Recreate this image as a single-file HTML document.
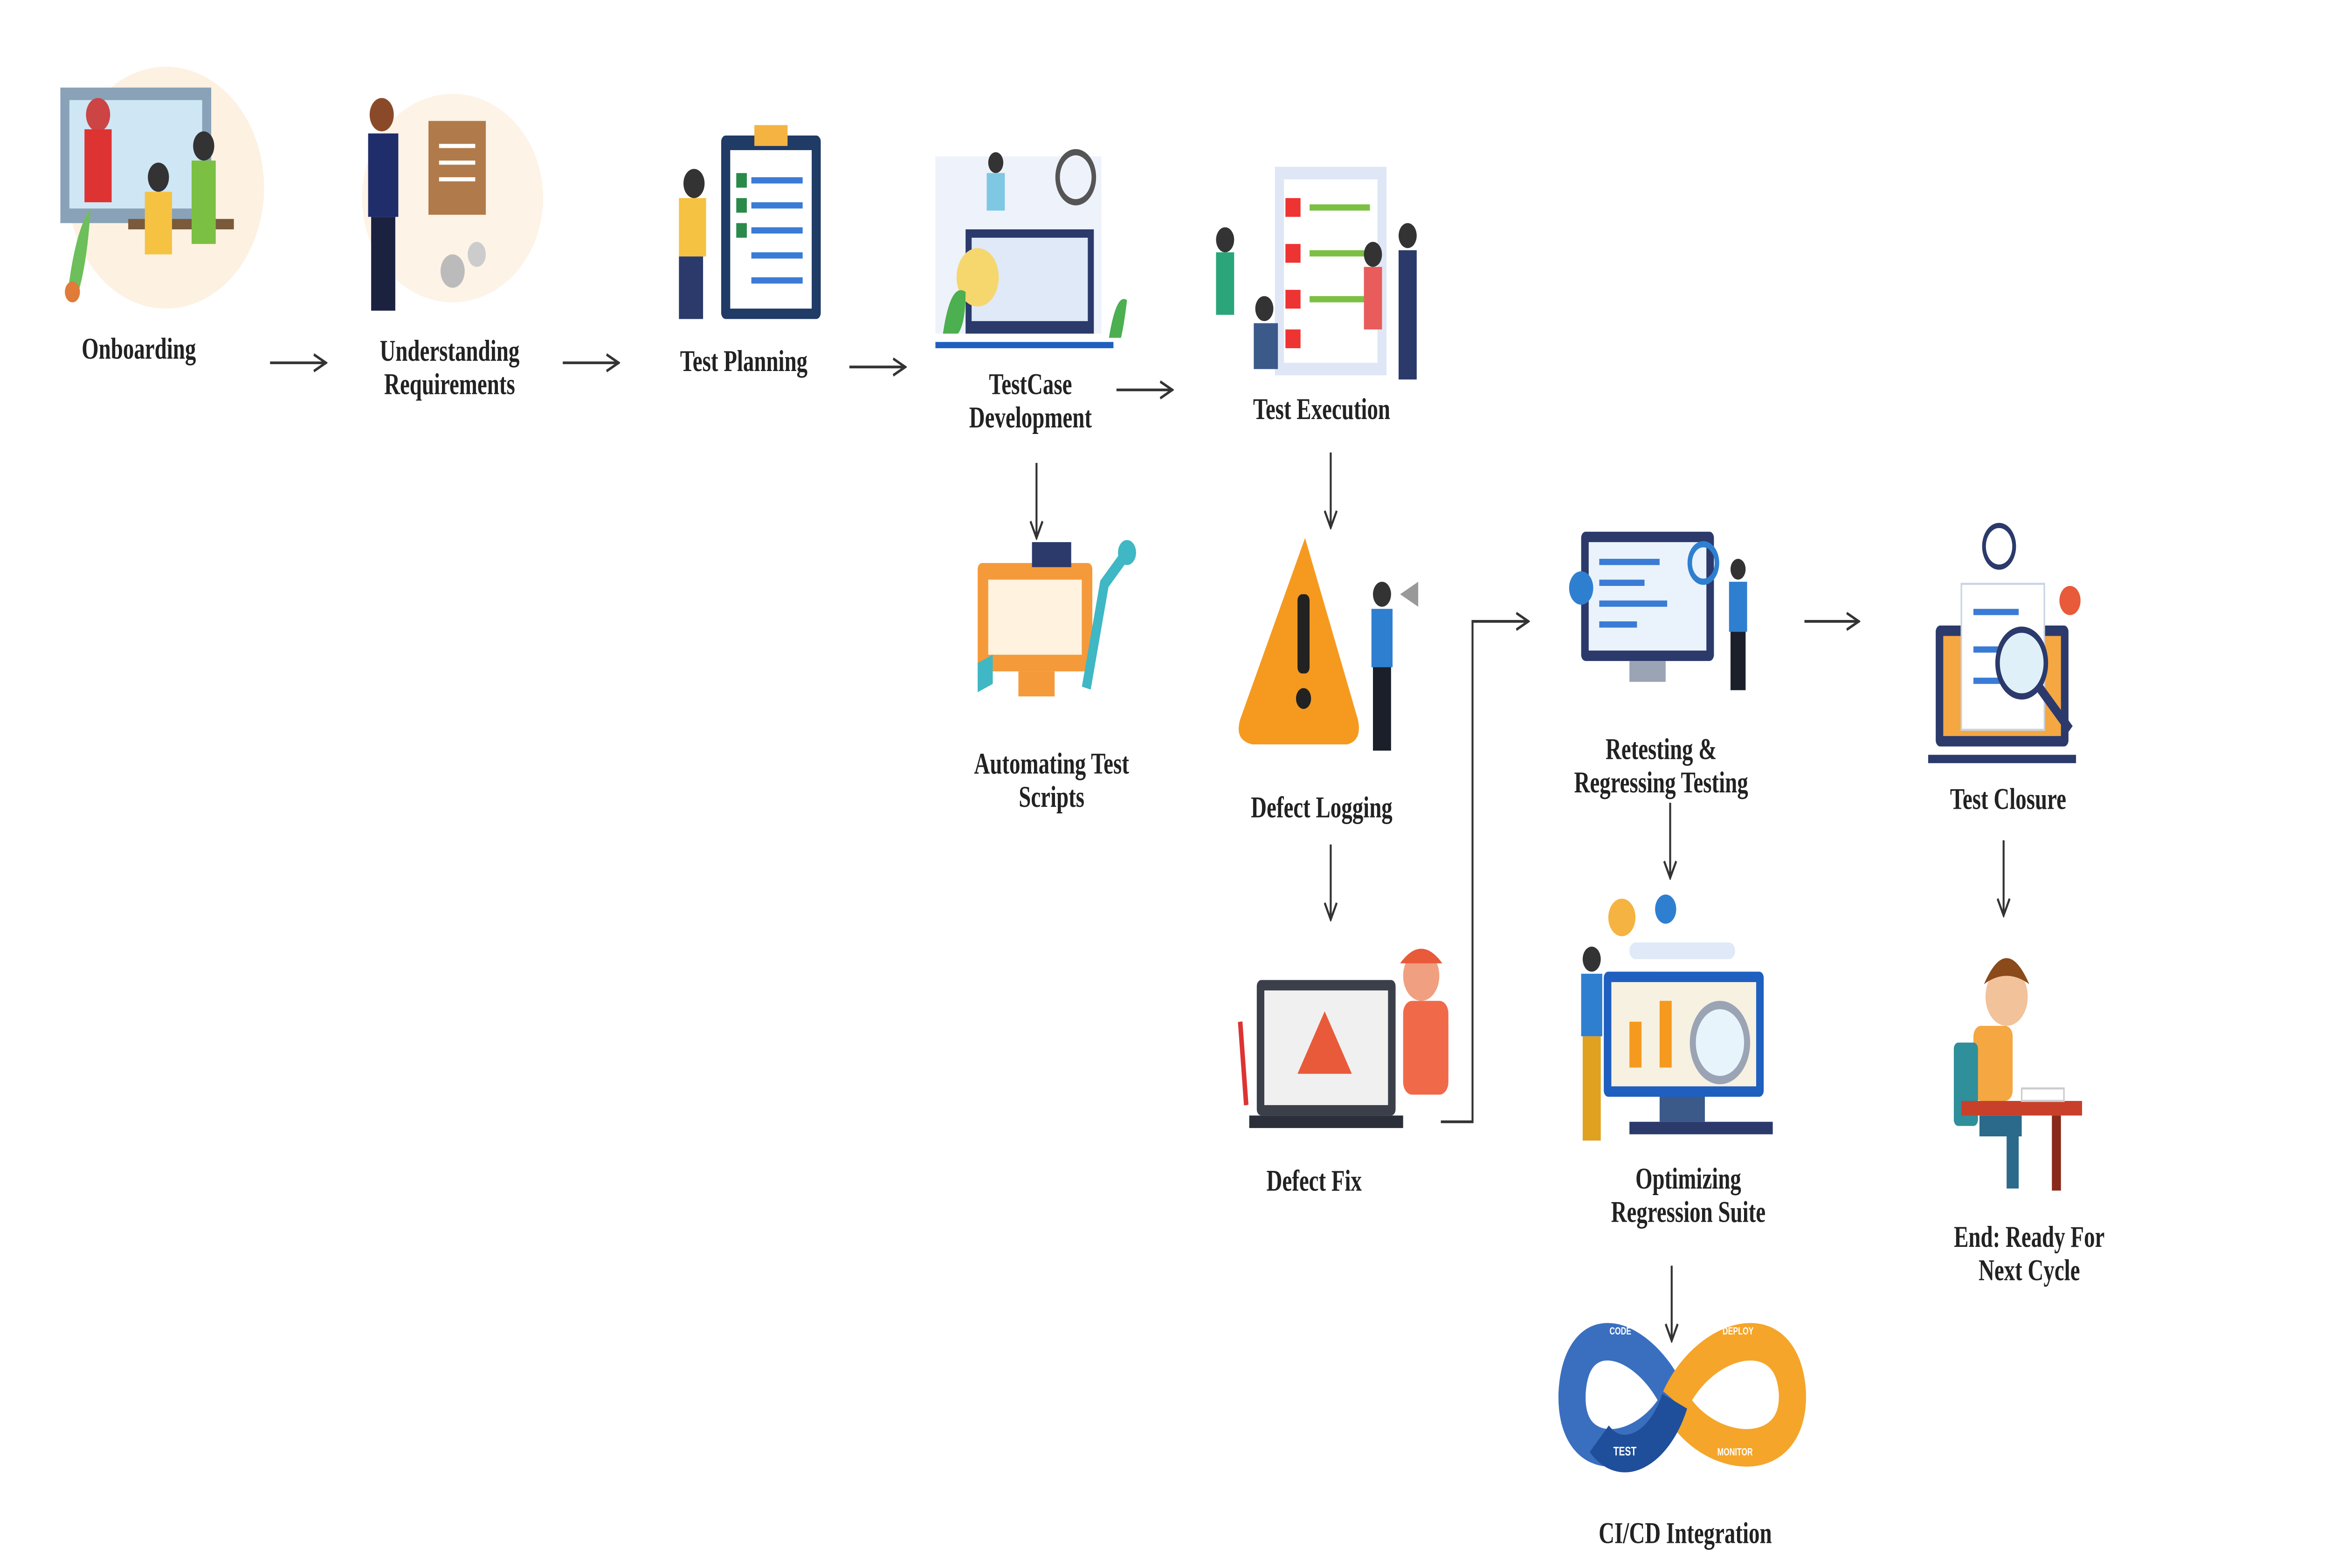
<!DOCTYPE html>
<html><head><meta charset="utf-8"><style>
html,body{margin:0;padding:0;background:#fff;width:100%;height:100%;overflow:hidden;}
svg{display:block;width:100vw;height:100vh;position:absolute;left:0;top:0;}
text{font-family:"Liberation Serif",serif;font-weight:bold;font-size:14.5px;fill:#222;text-anchor:middle;}
</style></head><body>
<svg viewBox="0 0 1545 752" preserveAspectRatio="none" xmlns="http://www.w3.org/2000/svg">
<defs>
<marker id="a" markerWidth="10" markerHeight="10" refX="9" refY="5" orient="auto" markerUnits="userSpaceOnUse">
<path d="M1,1 L9,5 L1,9" fill="none" stroke="#333" stroke-width="1.3"/></marker>
</defs>
<rect width="1545" height="752" fill="#fff"/>
<!-- Onboarding illustration -->
<ellipse cx="110" cy="90" rx="65" ry="58" fill="#fdf1e2"/>
<rect x="40" y="42" width="100" height="65" fill="#8aa2b8"/><rect x="46" y="48" width="88" height="52" fill="#cfe6f5"/>
<rect x="85" y="105" width="70" height="5" fill="#7a5a3a"/>
<circle cx="65" cy="55" r="8" fill="#c44"/><rect x="56" y="62" width="18" height="35" fill="#d33"/>
<circle cx="105" cy="85" r="7" fill="#333"/><rect x="96" y="92" width="18" height="30" fill="#f5c242"/>
<circle cx="135" cy="70" r="7" fill="#333"/><rect x="127" y="77" width="16" height="40" fill="#7bc043"/>
<path d="M45,140 q5,-30 15,-40 q-2,25 -8,40z" fill="#6cbf5a"/><circle cx="48" cy="140" r="5" fill="#e07b39"/>
<!-- Understanding -->
<ellipse cx="300" cy="95" rx="60" ry="50" fill="#fdf3e7"/>
<circle cx="253" cy="55" r="8" fill="#8a4a2a"/><rect x="244" y="64" width="20" height="40" fill="#1f2d6b"/><rect x="246" y="104" width="16" height="45" fill="#1b2240"/>
<rect x="284" y="58" width="38" height="45" fill="#b07a4a"/><g stroke="#fff" stroke-width="2"><line x1="291" y1="70" x2="315" y2="70"/><line x1="291" y1="78" x2="315" y2="78"/><line x1="291" y1="86" x2="315" y2="86"/></g>
<circle cx="300" cy="130" r="8" fill="#bbb"/><circle cx="316" cy="122" r="6" fill="#ccc"/>
<!-- Test Planning -->
<rect x="478" y="65" width="66" height="88" rx="3" fill="#1f3b66"/><rect x="484" y="72" width="54" height="76" fill="#fff"/>
<rect x="500" y="60" width="22" height="10" fill="#f5b342"/>
<g fill="#3a7bd5"><rect x="498" y="85" width="34" height="3"/><rect x="498" y="97" width="34" height="3"/><rect x="498" y="109" width="34" height="3"/><rect x="498" y="121" width="34" height="3"/><rect x="498" y="133" width="34" height="3"/></g>
<g fill="#2a8a4a"><rect x="488" y="83" width="7" height="7"/><rect x="488" y="95" width="7" height="7"/><rect x="488" y="107" width="7" height="7"/></g>
<circle cx="460" cy="88" r="7" fill="#333"/><rect x="450" y="95" width="18" height="28" fill="#f5c242"/><rect x="450" y="123" width="16" height="30" fill="#2b3a6b"/>
<!-- TestCase Development -->
<rect x="620" y="75" width="110" height="85" fill="#eef2fb"/>
<rect x="640" y="110" width="85" height="50" fill="#2b3a6b"/><rect x="644" y="114" width="77" height="40" fill="#dfe9f7"/>
<circle cx="648" cy="133" r="14" fill="#f5d76e"/><circle cx="713" cy="85" r="12" fill="none" stroke="#555" stroke-width="3"/>
<path d="M625,160 q5,-25 15,-20 q0,15 -5,20z" fill="#4caf50"/><path d="M735,162 q5,-22 12,-18 q-2,12 -4,18z" fill="#4caf50"/>
<rect x="620" y="164" width="118" height="3" fill="#1f5fbf"/>
<circle cx="660" cy="78" r="5" fill="#333"/><rect x="654" y="83" width="12" height="18" fill="#7ec8e3"/>
<!-- Test Execution -->
<rect x="845" y="80" width="74" height="100" fill="#dfe6f5"/><rect x="851" y="86" width="62" height="88" fill="#fff"/>
<g fill="#e33"><rect x="852" y="95" width="10" height="9"/><rect x="852" y="117" width="10" height="9"/><rect x="852" y="139" width="10" height="9"/><rect x="852" y="158" width="10" height="9"/></g>
<g fill="#7bc043"><rect x="868" y="98" width="40" height="3"/><rect x="868" y="120" width="40" height="3"/><rect x="868" y="142" width="40" height="3"/></g>
<circle cx="812" cy="115" r="6" fill="#333"/><rect x="806" y="121" width="12" height="30" fill="#2aa67a"/>
<circle cx="838" cy="148" r="6" fill="#333"/><rect x="831" y="155" width="16" height="22" fill="#3b5a8a"/>
<circle cx="910" cy="122" r="6" fill="#333"/><rect x="904" y="128" width="12" height="30" fill="#e85c5c"/>
<circle cx="933" cy="113" r="6" fill="#333"/><rect x="927" y="120" width="12" height="62" fill="#2b3a6b"/>
<!-- Automating -->
<rect x="648" y="270" width="76" height="52" rx="3" fill="#f59a3a"/><rect x="655" y="278" width="62" height="36" fill="#fff2df"/>
<rect x="675" y="322" width="24" height="12" fill="#f59a3a"/>
<path d="M720,330 l12,-50 l15,-15" stroke="#3fb7c4" stroke-width="6" fill="none"/><circle cx="747" cy="265" r="6" fill="#3fb7c4"/>
<rect x="684" y="260" width="26" height="12" fill="#2b3a6b"/>
<path d="M648,318 l10,-4 l0,14 l-10,4z" fill="#3fb7c4"/>
<!-- Defect Logging -->
<path d="M865,258 L900,345 Q903,355 893,357 L830,357 Q818,355 822,345 Z" fill="#f59a1f"/>
<rect x="860" y="285" width="8" height="38" rx="3" fill="#222"/><circle cx="864" cy="335" r="5" fill="#222"/>
<circle cx="916" cy="285" r="6" fill="#333"/><rect x="909" y="292" width="14" height="28" fill="#2f7fd1"/><rect x="910" y="320" width="12" height="40" fill="#1b1f2a"/>
<path d="M928,285 l12,-6 l0,12z" fill="#999"/>
<!-- Defect Fix -->
<rect x="833" y="470" width="92" height="65" rx="3" fill="#3b3f4a"/><rect x="838" y="475" width="82" height="55" fill="#f0f0f0"/>
<rect x="828" y="535" width="102" height="6" fill="#2b2f3a"/>
<path d="M878,485 l18,30 l-36,0z" fill="#e85a3a"/>
<circle cx="942" cy="468" r="12" fill="#f0a080"/><rect x="930" y="480" width="30" height="45" rx="6" fill="#f06a4a"/><path d="M928,462 q14,-14 28,0z" fill="#e85a3a"/>
<line x1="822" y1="490" x2="826" y2="530" stroke="#d33" stroke-width="3"/>
<!-- Retesting -->
<rect x="1048" y="255" width="88" height="62" rx="3" fill="#2b3a6b"/><rect x="1053" y="260" width="78" height="52" fill="#eaf3fb"/>
<g fill="#3a7bd5"><rect x="1060" y="268" width="40" height="3"/><rect x="1060" y="278" width="30" height="3"/><rect x="1060" y="288" width="45" height="3"/><rect x="1060" y="298" width="25" height="3"/></g>
<rect x="1080" y="317" width="24" height="10" fill="#9aa4b4"/><circle cx="1129" cy="270" r="9" fill="none" stroke="#2f7fd1" stroke-width="3"/>
<circle cx="1048" cy="282" r="8" fill="#2f7fd1"/>
<circle cx="1152" cy="273" r="5" fill="#333"/><rect x="1146" y="279" width="12" height="24" fill="#2f7fd1"/><rect x="1147" y="303" width="10" height="28" fill="#1b1f2a"/>
<!-- Test Closure -->
<circle cx="1325" cy="262" r="10" fill="#fff" stroke="#2b3a6b" stroke-width="2.5"/>
<rect x="1283" y="300" width="88" height="58" rx="3" fill="#2b3a6b"/><rect x="1288" y="305" width="78" height="48" fill="#f5a742"/>
<rect x="1300" y="280" width="55" height="70" fill="#fff" stroke="#c8d4e6"/>
<g fill="#3a7bd5"><rect x="1308" y="292" width="30" height="3"/><rect x="1308" y="310" width="20" height="3"/><rect x="1308" y="325" width="20" height="3"/></g>
<circle cx="1340" cy="318" r="16" fill="#dff0f8" stroke="#2b3a6b" stroke-width="3"/>
<line x1="1352" y1="330" x2="1372" y2="350" stroke="#2b3a6b" stroke-width="5"/>
<circle cx="1372" cy="288" r="7" fill="#e85a3a"/><rect x="1278" y="362" width="98" height="4" fill="#2b3a6b"/>
<!-- Optimizing -->
<rect x="1063" y="466" width="106" height="60" rx="3" fill="#1f5fbf"/><rect x="1068" y="471" width="96" height="50" fill="#f7f1e2"/>
<g fill="#f59a1f"><rect x="1080" y="490" width="8" height="22"/><rect x="1100" y="480" width="8" height="32"/></g>
<circle cx="1140" cy="500" r="18" fill="#e8f4fb" stroke="#9aa4b4" stroke-width="4"/>
<rect x="1100" y="526" width="30" height="12" fill="#3b5a8a"/><rect x="1080" y="538" width="95" height="6" fill="#2b3a6b"/>
<circle cx="1075" cy="440" r="9" fill="#f5b342"/><circle cx="1104" cy="436" r="7" fill="#2f7fd1"/>
<rect x="1080" y="452" width="70" height="8" rx="4" fill="#dfe9f7"/>
<circle cx="1055" cy="460" r="6" fill="#333"/><rect x="1048" y="467" width="14" height="30" fill="#2f7fd1"/><rect x="1049" y="497" width="12" height="50" fill="#e0a020"/>
<!-- CI/CD -->
<path d="M1110,672 C1090,640 1045,630 1042,668 C1040,705 1090,700 1110,672" fill="none" stroke="#3a6fc0" stroke-width="18"/>
<path d="M1110,672 C1130,640 1185,630 1188,668 C1190,705 1130,700 1110,672" fill="none" stroke="#f5a52a" stroke-width="18"/>
<path d="M1060,690 C1075,705 1100,695 1110,672" fill="none" stroke="#1f4f9a" stroke-width="18"/>
<text x="1077" y="698" style="font-size:6px;fill:#fff;font-family:'Liberation Sans',sans-serif">TEST</text>
<text x="1074" y="640" style="font-size:5px;fill:#fff;font-family:'Liberation Sans',sans-serif">CODE</text>
<text x="1152" y="640" style="font-size:5px;fill:#fff;font-family:'Liberation Sans',sans-serif">DEPLOY</text>
<text x="1150" y="698" style="font-size:5px;fill:#fff;font-family:'Liberation Sans',sans-serif">MONITOR</text>
<!-- End -->
<circle cx="1330" cy="478" r="14" fill="#f2c29a"/><path d="M1315,472 q15,-25 30,0 q-15,-8 -30,0z" fill="#8a4a1a"/>
<rect x="1308" y="492" width="26" height="36" rx="5" fill="#f5a742"/>
<rect x="1295" y="500" width="16" height="40" rx="3" fill="#2f8f9a"/>
<rect x="1300" y="528" width="80" height="7" fill="#c8402a"/><rect x="1360" y="535" width="6" height="36" fill="#8a2a1a"/>
<rect x="1312" y="535" width="28" height="10" fill="#2b6a8a"/><rect x="1330" y="545" width="8" height="25" fill="#2b6a8a"/>
<rect x="1340" y="522" width="28" height="6" fill="#fff" stroke="#ccc"/>
<!-- Labels -->
<text x="92" y="172">Onboarding</text>
<text x="298" y="173">Understanding</text><text x="298" y="189">Requirements</text>
<text x="493" y="178">Test Planning</text>
<text x="683" y="189">TestCase</text><text x="683" y="205">Development</text>
<text x="876" y="201">Test Execution</text>
<text x="697" y="371">Automating Test</text><text x="697" y="387">Scripts</text>
<text x="876" y="392">Defect Logging</text>
<text x="871" y="571">Defect Fix</text>
<text x="1101" y="364">Retesting &amp;</text><text x="1101" y="380">Regressing Testing</text>
<text x="1331" y="388">Test Closure</text>
<text x="1119" y="570">Optimizing</text><text x="1119" y="586">Regression Suite</text>
<text x="1345" y="598">End: Ready For</text><text x="1345" y="614">Next Cycle</text>
<text x="1117" y="740">CI/CD Integration</text>
<!-- Arrows -->
<g stroke="#333" stroke-width="1.3" fill="none" marker-end="url(#a)">
<line x1="179" y1="174" x2="216" y2="174"/>
<line x1="373" y1="174" x2="410" y2="174"/>
<line x1="563" y1="176" x2="600" y2="176"/>
<line x1="740" y1="187" x2="777" y2="187"/>
<line x1="687" y1="222" x2="687" y2="258"/>
<line x1="882" y1="217" x2="882" y2="253"/>
<line x1="882" y1="405" x2="882" y2="441"/>
<line x1="1107" y1="385" x2="1107" y2="421"/>
<line x1="1108" y1="607" x2="1108" y2="643"/>
<line x1="1328" y1="403" x2="1328" y2="439"/>
<line x1="1196" y1="298" x2="1232" y2="298"/>
<polyline points="955,538 976,538 976,298 1013,298"/>
</g>
</svg>
</body></html>
